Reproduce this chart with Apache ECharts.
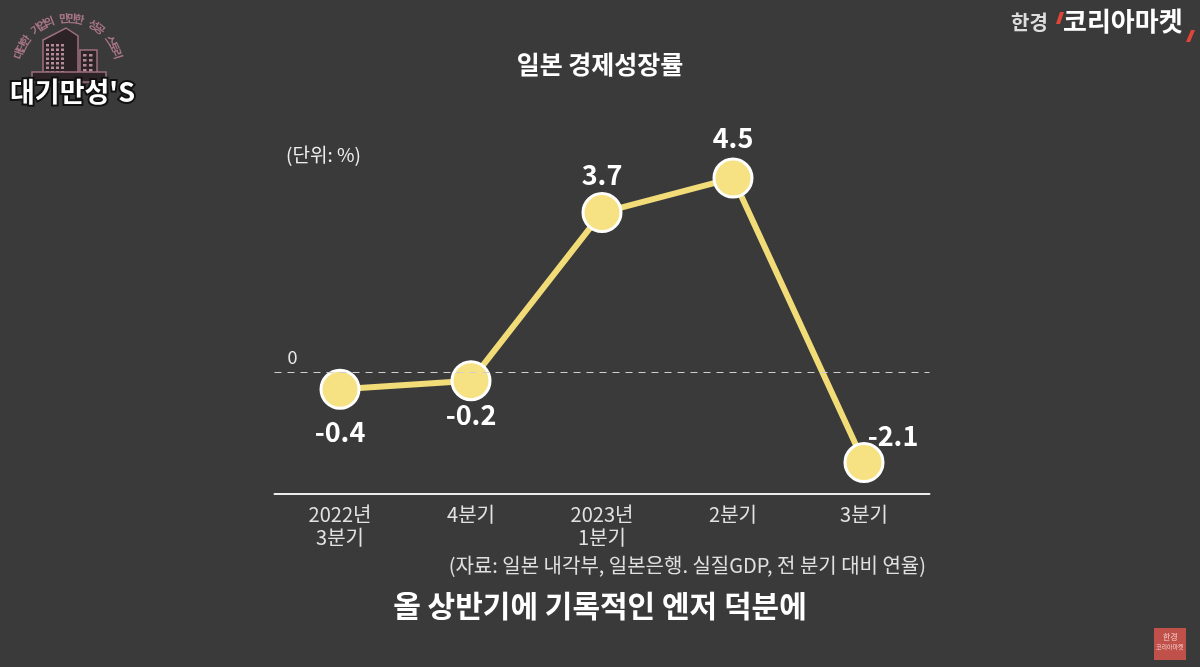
<!DOCTYPE html>
<html><head><meta charset="utf-8">
<script src="https://cdn.jsdelivr.net/npm/echarts@6/dist/echarts.min.js"></script>
<style>html,body{margin:0;padding:0;background:#3a3a3a;}#c{width:1200px;height:667px;}</style>
</head><body><div id="c"></div>
<script>
const categories = ['2022년\n3분기', '4분기', '2023년\n1분기', '2분기', '3분기'];
const growth = [-0.4, -0.2, 3.7, 4.5, -2.1];
const labelPos = ['bottom', 'bottom', 'top', 'top', 'top'];
const title = '일본 경제성장률';
const unitText = '(단위: %)';
const sourceText = '(자료: 일본 내각부, 일본은행. 실질GDP, 전 분기 대비 연율)';
const subtitle = '올 상반기에 기록적인 엔저 덕분에';
const logoArc = '대단한 기업의 만만한 성공 스토리';

const FONT = '"Noto Sans CJK KR", "Noto Sans", sans-serif';
const labelOffsets = [[0, -2], [0, -10], [0, 6], [0, 4], [29, 17]];

// decorative logo arc text
const arcGraphics = [];
const chars = Array.from(logoArc);
const cx = 68, cy = 70, r = 52;
chars.forEach((ch, i) => {
  const th = (162 - i * (144 / (chars.length - 1))) * Math.PI / 180;
  arcGraphics.push({type: 'text', x: cx + r * Math.cos(th), y: cy - r * Math.sin(th),
    rotation: th - Math.PI / 2,
    style: {text: ch, fill: '#a87585', font: 'bold 11px ' + FONT, align: 'center', verticalAlign: 'middle',
      shadowColor: 'rgba(230,190,210,0.5)', shadowBlur: 6}});
});
// building windows
const bld = [];
bld.push({type: 'polygon', shape: {points: [[43, 40], [66, 28], [78, 36], [78, 76], [43, 76]]}, style: {fill: '#2b2326', stroke: '#a07080', lineWidth: 1.5}});
for (let row = 0; row < 7; row++) for (let col = 0; col < 4; col++)
  bld.push({type: 'rect', shape: {x: 46 + col * 5, y: 44 + row * 4.5, width: 3, height: 2.5}, style: {fill: '#b68a98'}});
bld.push({type: 'rect', shape: {x: 80, y: 50, width: 17, height: 26}, style: {fill: '#2b2326', stroke: '#a07080', lineWidth: 1.5}});
for (let row = 0; row < 4; row++) for (let col = 0; col < 2; col++)
  bld.push({type: 'rect', shape: {x: 83 + col * 6, y: 54 + row * 5, width: 3.5, height: 2.5}, style: {fill: '#b68a98'}});
bld.push({type: 'rect', shape: {x: 32, y: 72, width: 74, height: 10}, style: {fill: '#2b2326', stroke: '#a07080', lineWidth: 1.5}});

const chart = echarts.init(document.getElementById('c'));
chart.setOption({
  backgroundColor: '#3a3a3a',
  animation: false,
  title: {text: title, left: 'center', top: 47,
    textStyle: {color: '#ffffff', fontSize: 25, fontWeight: 'bold', fontFamily: FONT}},
  grid: {left: 274.5, right: 270.5, top: 135, bottom: 173},
  xAxis: {type: 'category', data: categories, boundaryGap: true,
    axisLine: {onZero: false, lineStyle: {color: '#ececec', width: 2}},
    axisTick: {show: false},
    axisLabel: {color: '#e2e2e2', fontSize: 20, fontFamily: FONT, lineHeight: 23, margin: 9}},
  yAxis: {type: 'value', min: -2.83, max: 5.5, show: false, splitLine: {show: false}},
  series: [{
    type: 'line', data: growth.map((v, i) => ({value: v, label: {position: labelPos[i], offset: labelOffsets[i]}})),
    symbol: 'circle', symbolSize: 38,
    lineStyle: {color: '#f2dc78', width: 6},
    itemStyle: {color: '#f6e283', borderColor: '#ffffff', borderWidth: 3},
    label: {show: true, color: '#ffffff', fontSize: 27, fontWeight: 'bold', fontFamily: FONT, distance: 10},
    markLine: {silent: true, symbol: 'none',
      data: [{yAxis: 0}],
      lineStyle: {color: '#cfcfcf', type: [7, 6], width: 1},
      label: {show: true, position: 'insideStartTop', formatter: '0', color: '#e6e6e6', fontSize: 18, fontFamily: FONT, distance: [13, 6]}}
  }],
  graphic: [
    {type: 'text', left: 286, top: 145, style: {text: unitText, fill: '#eeeeee', font: '19px ' + FONT}},
    {type: 'text', right: 274, top: 555, style: {text: sourceText, fill: '#e0e0e0', font: '20px ' + FONT}},
    {type: 'text', left: 'center', top: 591, style: {text: subtitle, fill: '#ffffff', font: 'bold 30px ' + FONT,
      shadowColor: 'rgba(0,0,0,0.8)', shadowBlur: 4, shadowOffsetX: 2, shadowOffsetY: 2}},
    ...arcGraphics,
    ...bld,
    {type: 'text', left: 8, top: 76, style: {text: "대기만성'S", fill: '#ffffff', font: 'bold 27px ' + FONT,
      stroke: '#111111', lineWidth: 4, shadowColor: 'rgba(200,160,180,0.7)', shadowBlur: 8}},
    // top-right logo
    {type: 'text', left: 1011, top: 12, style: {text: '한경', fill: '#dddddd', font: 'bold 20px ' + FONT}},
    {type: 'polygon', shape: {points: [[1056, 24], [1060, 24], [1064, 12], [1060, 12]]}, style: {fill: '#e0453a'}},
    {type: 'text', left: 1063, top: 8, style: {text: '코리아마켓', fill: '#ffffff', font: 'bold 26px ' + FONT}},
    {type: 'polygon', shape: {points: [[1186, 42], [1190, 42], [1195, 30], [1191, 30]]}, style: {fill: '#e0453a'}},
    // bottom-right badge
    {type: 'rect', shape: {x: 1154, y: 628, width: 32, height: 32}, style: {fill: '#c0504a'}},
    {type: 'text', left: 1163, top: 633, style: {text: '한경', fill: '#f4d0cc', font: '8px ' + FONT}},
    {type: 'text', left: 1156, top: 644, style: {text: '코리아마켓', fill: '#f4d0cc', font: '6px ' + FONT}}
  ]
});
</script></body></html>
